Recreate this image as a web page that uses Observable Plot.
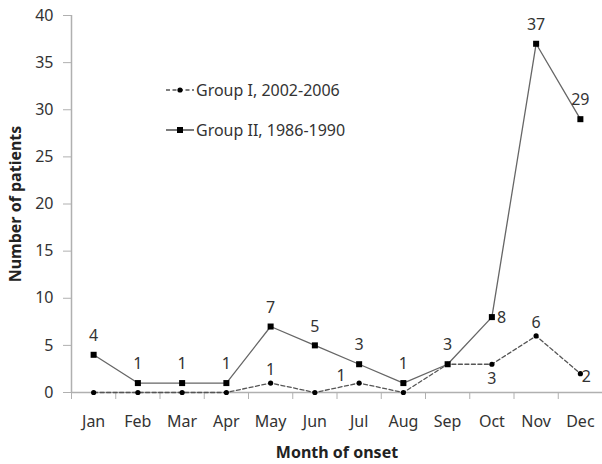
<!DOCTYPE html>
<html>
<head>
<meta charset="utf-8">
<script src="https://cdn.jsdelivr.net/npm/d3@7"></script>
<script src="https://cdn.jsdelivr.net/npm/@observablehq/plot@0.6"></script>
<style>
  html, body { margin: 0; padding: 0; background: #fff; }
  #wrap { position: relative; width: 602px; height: 464px; font-family: "Noto Sans", "Open Sans", sans-serif; }
  #legend { position: absolute; left: 0; top: 0; pointer-events: none; }
</style>
</head>
<body>
<div id="wrap"></div>
<script>
const months = ["Jan","Feb","Mar","Apr","May","Jun","Jul","Aug","Sep","Oct","Nov","Dec"];
const groupI = [0,0,0,0,1,0,1,0,3,3,6,2];      // Group I, 2002-2006
const groupII = [4,1,1,1,7,5,3,1,3,8,37,29];   // Group II, 1986-1990
const yTicks = [0,5,10,15,20,25,30,35,40];
const seriesNames = ["Group I, 2002-2006", "Group II, 1986-1990"];

const rowsI = months.map((m, i) => ({month: m, i: i + 0.5, v: groupI[i]}));
const rowsII = months.map((m, i) => ({month: m, i: i + 0.5, v: groupII[i]}));

// Label placement (presentation only)
const labelsII = rowsII.map(d => {
  if (d.month === "Oct") return {...d, dx: 5, dy: 1, anchor: "start"};
  return {...d, dx: 0, dy: -19, anchor: "middle"};
});
const labelsI = rowsI.filter(d => d.v > 0 && d.month !== "Sep").map(d => {
  if (d.month === "Jul") return {...d, dx: -18, dy: -7, anchor: "middle"};
  if (d.month === "Oct") return {...d, dx: 0, dy: 15, anchor: "middle"};
  if (d.month === "Dec") return {...d, dx: 6, dy: 3, anchor: "middle"};
  return {...d, dx: 0, dy: -13, anchor: "middle"};
});

const txt = "#333";
const axisGray = "#b0b0b0";
const FS = 16;

const marks = [
  Plot.ruleY([0], {stroke: axisGray, strokeWidth: 1.5}),
  Plot.ruleX([0], {stroke: axisGray, strokeWidth: 1.5}),
  Plot.axisY({ticks: yTicks, tickSize: 8, tickPadding: 10, stroke: axisGray, fill: txt, fontSize: FS, label: null}),
  Plot.axisX({ticks: d3.range(0, 13), tickSize: 7, stroke: axisGray, tickFormat: () => "", label: null}),
  Plot.axisX({ticks: d3.range(0, 12).map(i => i + 0.5), tickSize: 0, tickPadding: 23, tickFormat: (t) => months[Math.floor(t)], fill: txt, fontSize: FS, label: null}),
  Plot.line(rowsI, {x: "i", y: "v", stroke: "#555", strokeWidth: 1.3, strokeDasharray: "4,2.5"}),
  Plot.line(rowsII, {x: "i", y: "v", stroke: "#666", strokeWidth: 1.3}),
  Plot.dot(rowsI, {x: "i", y: "v", r: 2.6, fill: "#000", stroke: "none"}),
  Plot.dot(rowsII, {x: "i", y: "v", symbol: "square", r: 3.4, fill: "#000", stroke: "none"}),
];
for (const rows of [labelsII, labelsI]) {
  for (const r of rows) {
    marks.push(Plot.text([r], {x: "i", y: "v", text: d => String(d.v), textAnchor: r.anchor, dx: r.dx, dy: r.dy, fill: txt, fontSize: FS}));
  }
}
marks.push(Plot.text(["Number of patients"], {frameAnchor: "left", textAnchor: "middle", lineAnchor: "middle", rotate: -90, dx: -56, text: d => d, fontWeight: "bold", fontSize: FS, fill: "#222"}));
marks.push(Plot.text(["Month of onset"], {frameAnchor: "bottom", textAnchor: "middle", lineAnchor: "middle", dy: 60, text: d => d, fontWeight: "bold", fontSize: FS, fill: "#222"}));

const chart = Plot.plot({
  width: 602,
  height: 464,
  marginLeft: 71,
  marginRight: 0,
  marginTop: 15,
  marginBottom: 72,
  style: {fontFamily: '"Noto Sans", "Open Sans", sans-serif', fontSize: FS + "px", background: "#fff"},
  x: {type: "linear", domain: [0, 12]},
  y: {domain: [0, 40]},
  marks
});

const wrap = document.getElementById("wrap");
wrap.appendChild(chart);

// Legend overlay
const ns = "http://www.w3.org/2000/svg";
const leg = document.createElementNS(ns, "svg");
leg.setAttribute("id", "legend");
leg.setAttribute("width", 602);
leg.setAttribute("height", 464);
const items = [
  {name: seriesNames[0], y: 90, dash: "4,2.5", sym: "circle"},
  {name: seriesNames[1], y: 130, dash: null, sym: "square"}
];
for (const it of items) {
  const l = document.createElementNS(ns, "line");
  l.setAttribute("x1", 166); l.setAttribute("x2", 194);
  l.setAttribute("y1", it.y); l.setAttribute("y2", it.y);
  l.setAttribute("stroke", it.dash ? "#555" : "#333");
  l.setAttribute("stroke-width", 1.3);
  if (it.dash) l.setAttribute("stroke-dasharray", it.dash);
  leg.appendChild(l);
  if (it.sym === "circle") {
    const c = document.createElementNS(ns, "circle");
    c.setAttribute("cx", 180); c.setAttribute("cy", it.y); c.setAttribute("r", 2.6);
    c.setAttribute("fill", "#000");
    leg.appendChild(c);
  } else {
    const s = document.createElementNS(ns, "rect");
    s.setAttribute("x", 177); s.setAttribute("y", it.y - 3); s.setAttribute("width", 6); s.setAttribute("height", 6);
    s.setAttribute("fill", "#000");
    leg.appendChild(s);
  }
  const t = document.createElementNS(ns, "text");
  t.setAttribute("x", 196); t.setAttribute("y", it.y);
  t.setAttribute("dy", "0.35em");
  t.setAttribute("fill", txt);
  t.setAttribute("font-size", FS);
  t.setAttribute("font-family", '"Noto Sans", "Open Sans", sans-serif');
  t.textContent = it.name;
  leg.appendChild(t);
}
wrap.appendChild(leg);
</script>
</body>
</html>
